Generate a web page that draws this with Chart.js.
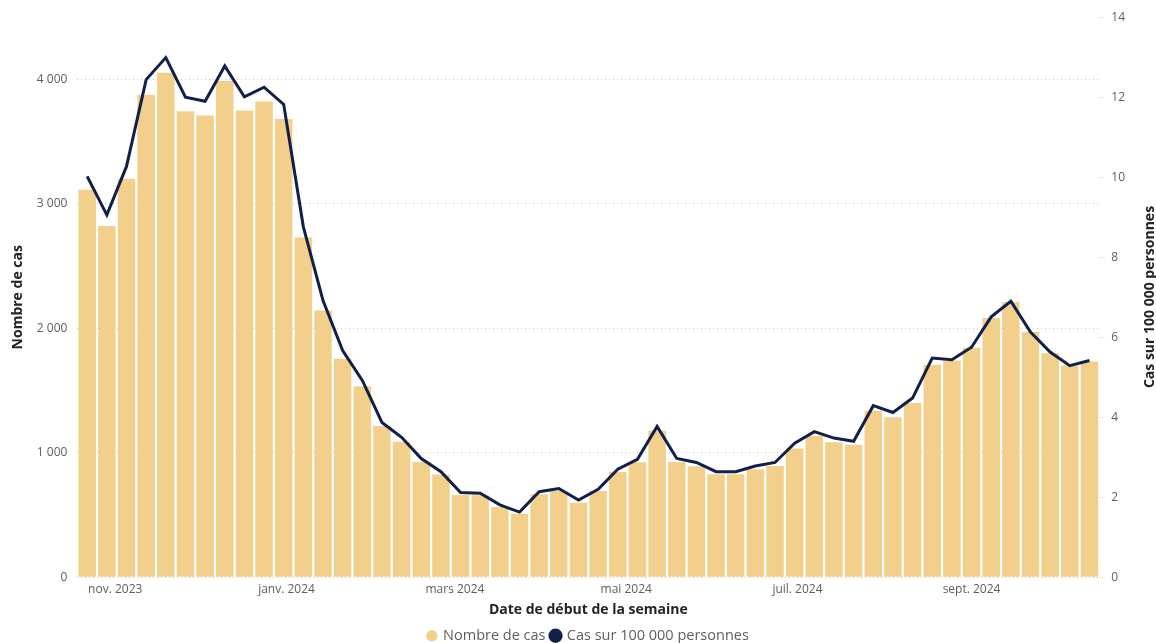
<!DOCTYPE html>
<html><head><meta charset="utf-8">
<script src="https://cdn.jsdelivr.net/npm/chart.js@4.4.1/dist/chart.umd.min.js"></script>
<style>html,body{margin:0;padding:0;background:#fff}#wrap{width:1156px;height:643px;position:relative}</style>
</head><body><div id="wrap"><canvas id="c"></canvas></div>
<script>
const weekStarts = [
  '2023-10-22','2023-10-29','2023-11-05','2023-11-12','2023-11-19','2023-11-26',
  '2023-12-03','2023-12-10','2023-12-17','2023-12-24','2023-12-31',
  '2024-01-07','2024-01-14','2024-01-21','2024-01-28',
  '2024-02-04','2024-02-11','2024-02-18','2024-02-25',
  '2024-03-03','2024-03-10','2024-03-17','2024-03-24','2024-03-31',
  '2024-04-07','2024-04-14','2024-04-21','2024-04-28',
  '2024-05-05','2024-05-12','2024-05-19','2024-05-26',
  '2024-06-02','2024-06-09','2024-06-16','2024-06-23','2024-06-30',
  '2024-07-07','2024-07-14','2024-07-21','2024-07-28',
  '2024-08-04','2024-08-11','2024-08-18','2024-08-25',
  '2024-09-01','2024-09-08','2024-09-15','2024-09-22','2024-09-29',
  '2024-10-06','2024-10-13'
];
const cases = [
  3113, 2823, 3202, 3877, 4054, 3745, 3710, 3987, 3750, 3823, 3683,
  2731, 2143, 1755, 1535, 1215, 1089, 927, 825, 661, 659, 565, 511,
  667, 694, 599, 694, 847, 925, 1177, 927, 892, 828, 828, 868, 895,
  1035, 1137, 1086, 1065, 1339, 1285, 1401, 1707, 1742, 1844, 2083,
  2212, 1970, 1801, 1702, 1734
];
const ratePer100k = [
  10.02, 9.06, 10.27, 12.44, 12.99, 12.00, 11.90, 12.78, 12.01, 12.25, 11.82,
  8.76, 6.92, 5.67, 4.92, 3.87, 3.50, 2.97, 2.64, 2.12, 2.10, 1.81, 1.63,
  2.14, 2.22, 1.93, 2.20, 2.70, 2.95, 3.77, 2.97, 2.87, 2.64, 2.64, 2.78, 2.87,
  3.35, 3.64, 3.48, 3.40, 4.29, 4.12, 4.48, 5.48, 5.44, 5.75, 6.51,
  6.90, 6.13, 5.63, 5.29, 5.42
];
const monthTickDates = ['2023-11-01','2024-01-01','2024-03-01','2024-05-01','2024-07-01','2024-09-01'];
const monthTickLabels = ['nov. 2023','janv. 2024','mars 2024','mai 2024','juil. 2024','sept. 2024'];
const leftTicks = [0, 1000, 2000, 3000, 4000];
const rightTicks = [0, 2, 4, 6, 8, 10, 12, 14];

const day = s => Date.parse(s + 'T00:00:00Z') / 86400000;
const fmt = v => String(v).replace(/\B(?=(\d{3})+(?!\d))/g, '\u00A0');

const GRAY = '#605E5C';
const DARK = '#252423';
const BAR = '#F2D08B';
const LINE = '#10204A';
const FONT = "'Segoe UI', 'Open Sans', 'Noto Sans', sans-serif";

Chart.defaults.font.family = FONT;
Chart.defaults.font.size = 12;
Chart.defaults.color = GRAY;

const rightTitle = {
  id: 'rightTitle',
  afterDraw(chart) {
    const ctx = chart.ctx;
    ctx.save();
    ctx.translate(1150, 297);
    ctx.rotate(-Math.PI / 2);
    ctx.font = "bold 14px " + FONT;
    ctx.fillStyle = DARK;
    ctx.textAlign = 'center';
    ctx.textBaseline = 'middle';
    ctx.fillText('Cas sur 100 000 personnes', 0, 0);
    ctx.restore();
  }
};

const centerLegend = {
  id: 'centerLegend',
  afterLayout(chart) {
    const lg = chart.legend;
    if (!lg) return;
    const shift = (chart.chartArea.left + chart.chartArea.right) / 2 - (lg.left + lg.right) / 2;
    lg.left += shift;
    lg.right += shift;
  }
};

new Chart(document.getElementById('c'), {
  data: {
    datasets: [
      {
        type: 'bar',
        label: 'Nombre de cas',
        data: cases.map((v, i) => ({ x: day(weekStarts[i]), y: v })),
        backgroundColor: BAR,
        borderWidth: 0,
        barPercentage: 0.89,
        categoryPercentage: 1.0,
        yAxisID: 'y',
        order: 2,
        pointStyle: 'circle'
      },
      {
        type: 'line',
        label: 'Cas sur 100 000 personnes',
        data: ratePer100k.map((v, i) => ({ x: day(weekStarts[i]), y: v })),
        borderColor: LINE,
        backgroundColor: LINE,
        borderWidth: 3,
        pointRadius: 0,
        tension: 0,
        yAxisID: 'y1',
        order: 1,
        pointStyle: 'circle'
      }
    ]
  },
  options: {
    responsive: true,
    maintainAspectRatio: false,
    animation: false,
    layout: { padding: { left: 10, right: 25, top: 14, bottom: -10 } },
    plugins: {
      tooltip: { enabled: false },
      legend: {
        position: 'bottom',
        labels: {
          usePointStyle: true,
          boxWidth: 8,
          boxHeight: 8,
          padding: 6,
          color: GRAY,
          font: { size: 14.5 },
          sort: (a, b) => a.datasetIndex - b.datasetIndex
        }
      }
    },
    scales: {
      x: {
        type: 'linear',
        offset: false,
        min: day(weekStarts[0]) - 3.5,
        max: day(weekStarts[weekStarts.length - 1]) + 3.5,
        grid: { display: false, drawTicks: false, offset: false },
        border: { display: false },
        afterBuildTicks: s => { s.ticks = monthTickDates.map(d => ({ value: day(d) })); },
        ticks: {
          autoSkip: false, maxRotation: 0, padding: 5, color: GRAY, font: { size: 12 },
          callback: v => { const i = monthTickDates.findIndex(d => day(d) === v); return i >= 0 ? monthTickLabels[i] : ''; }
        },
        title: {
          display: true, text: 'Date de début de la semaine', color: DARK,
          font: { size: 14, weight: 'bold' }, padding: { top: 0, bottom: 4 }
        }
      },
      y: {
        position: 'left',
        min: 0, max: 4500,
        afterBuildTicks: s => { s.ticks = leftTicks.map(v => ({ value: v })); },
        grid: { color: '#C8C8C8', lineWidth: 1, drawTicks: false },
        border: { display: false, dash: [1, 3] },
        ticks: { padding: 10, color: GRAY, font: { size: 12 }, callback: v => fmt(v) },
        title: {
          display: true, text: 'Nombre de cas', color: DARK,
          font: { size: 14, weight: 'bold' }, padding: { top: 0, bottom: 0 }
        }
      },
      y1: {
        position: 'right',
        min: 0, max: 14,
        afterBuildTicks: s => { s.ticks = rightTicks.map(v => ({ value: v })); },
        grid: { drawOnChartArea: false, drawTicks: true, tickLength: 6, tickColor: '#C8C8C8', tickBorderDash: [1, 2] },
        border: { display: false },
        ticks: { padding: 6, color: GRAY, font: { size: 12 }, callback: v => String(v) }
      }
    }
  },
  plugins: [rightTitle, centerLegend]
});
</script>
</body></html>
